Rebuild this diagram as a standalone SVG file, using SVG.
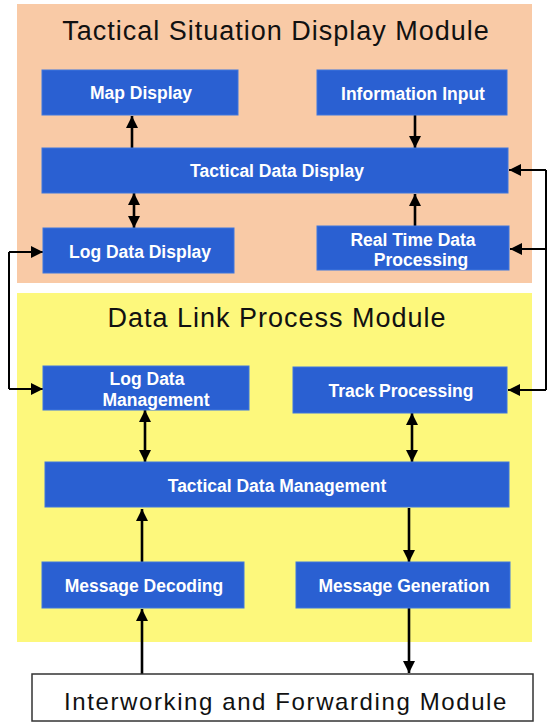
<svg xmlns="http://www.w3.org/2000/svg" width="547" height="723" viewBox="0 0 547 723">
  <style>
    .panel-tsd { fill: #f9caa6; }
    .panel-dlp { fill: #fdf87c; }
    .title { font-family: "Liberation Sans", Arial, sans-serif; font-size: 27px; letter-spacing: 1px; fill: #111; text-anchor: middle; }
    .box { fill: #2a60d2; stroke: #3f76de; stroke-width: 1; }
    .label { font-family: "Liberation Sans", Arial, sans-serif; font-size: 17.5px; font-weight: bold; fill: #ffffff; text-anchor: middle; }
    .ifm { fill: #ffffff; stroke: #333; stroke-width: 1.5; }
    .ifm-label { font-family: "Liberation Sans", Arial, sans-serif; font-size: 24px; letter-spacing: 1.6px; fill: #111; text-anchor: middle; }
    .conn { fill: none; stroke: #000; stroke-width: 2.6; }
    .loop { fill: none; stroke: #000; stroke-width: 2; }
  </style>
  <defs>
    <marker id="arrow" viewBox="0 0 10 10" refX="10" refY="5" markerUnits="userSpaceOnUse" markerWidth="13" markerHeight="12" orient="auto-start-reverse">
      <path d="M0,0 L10,5 L0,10 z" fill="#000"/>
    </marker>
  </defs>

  <rect width="547" height="723" fill="#ffffff"/>

  <!-- module panels -->
  <g id="tactical-situation-display-module">
    <rect class="panel-tsd" x="17" y="4" width="515" height="279"/>
    <text class="title" x="276" y="40">Tactical Situation Display Module</text>
  </g>
  <g id="data-link-process-module">
    <rect class="panel-dlp" x="17" y="293" width="515" height="349"/>
    <text class="title" x="277" y="327">Data Link Process Module</text>
  </g>

  <!-- connectors -->
  <g id="connectors">
    <line class="conn" x1="132" y1="148" x2="132" y2="116" marker-end="url(#arrow)"/>
    <line class="conn" x1="415" y1="115" x2="415" y2="148" marker-end="url(#arrow)"/>
    <line class="conn" x1="134" y1="193" x2="134" y2="228" marker-start="url(#arrow)" marker-end="url(#arrow)"/>
    <line class="conn" x1="415" y1="226" x2="415" y2="194" marker-end="url(#arrow)"/>

    <!-- right feedback bus -->
    <path class="loop" d="M546,170 V390"/>
    <line class="loop" x1="546" y1="170" x2="509" y2="170" marker-end="url(#arrow)"/>
    <line class="loop" x1="546" y1="249" x2="510" y2="249" marker-end="url(#arrow)"/>
    <line class="loop" x1="546" y1="390" x2="508" y2="390" marker-end="url(#arrow)"/>

    <!-- left log bus -->
    <path class="loop" d="M9,252 V389"/>
    <line class="loop" x1="9" y1="252" x2="43" y2="252" marker-end="url(#arrow)"/>
    <line class="loop" x1="9" y1="389" x2="43" y2="389" marker-end="url(#arrow)"/>

    <line class="conn" x1="145" y1="410" x2="145" y2="462" marker-start="url(#arrow)" marker-end="url(#arrow)"/>
    <line class="conn" x1="412" y1="413" x2="412" y2="462" marker-start="url(#arrow)" marker-end="url(#arrow)"/>
    <line class="conn" x1="142" y1="562" x2="142" y2="509" marker-end="url(#arrow)"/>
    <line class="conn" x1="409" y1="508" x2="409" y2="562" marker-end="url(#arrow)"/>
    <line class="conn" x1="142" y1="674" x2="142" y2="609" marker-end="url(#arrow)"/>
    <line class="conn" x1="409" y1="608" x2="409" y2="673" marker-end="url(#arrow)"/>
  </g>

  <!-- nodes -->
  <g id="map-display">
    <rect class="box" x="42" y="70" width="196" height="45"/>
    <text class="label" x="141" y="99">Map Display</text>
  </g>
  <g id="information-input">
    <rect class="box" x="317" y="70" width="190" height="45"/>
    <text class="label" x="413" y="100">Information Input</text>
  </g>
  <g id="tactical-data-display">
    <rect class="box" x="42" y="148" width="466" height="45"/>
    <text class="label" x="277" y="177">Tactical Data Display</text>
  </g>
  <g id="log-data-display">
    <rect class="box" x="43" y="228" width="191" height="45"/>
    <text class="label" x="140" y="258">Log Data Display</text>
  </g>
  <g id="real-time-data-processing">
    <rect class="box" x="317" y="226" width="192" height="44"/>
    <text class="label" x="413" y="246">Real Time Data</text>
    <text class="label" x="421" y="266">Processing</text>
  </g>
  <g id="log-data-management">
    <rect class="box" x="43" y="366" width="206" height="44"/>
    <text class="label" x="147" y="385">Log Data</text>
    <text class="label" x="156" y="406">Management</text>
  </g>
  <g id="track-processing">
    <rect class="box" x="293" y="367" width="214" height="46"/>
    <text class="label" x="401" y="397">Track Processing</text>
  </g>
  <g id="tactical-data-management">
    <rect class="box" x="45" y="462" width="464" height="45"/>
    <text class="label" x="277" y="492">Tactical Data Management</text>
  </g>
  <g id="message-decoding">
    <rect class="box" x="42" y="562" width="202" height="46"/>
    <text class="label" x="144" y="592">Message Decoding</text>
  </g>
  <g id="message-generation">
    <rect class="box" x="296" y="562" width="214" height="46"/>
    <text class="label" x="404" y="592">Message Generation</text>
  </g>
  <g id="interworking-and-forwarding-module">
    <rect class="ifm" x="32" y="674" width="501" height="47"/>
    <text class="ifm-label" x="286" y="710">Interworking and Forwarding Module</text>
  </g>
</svg>
